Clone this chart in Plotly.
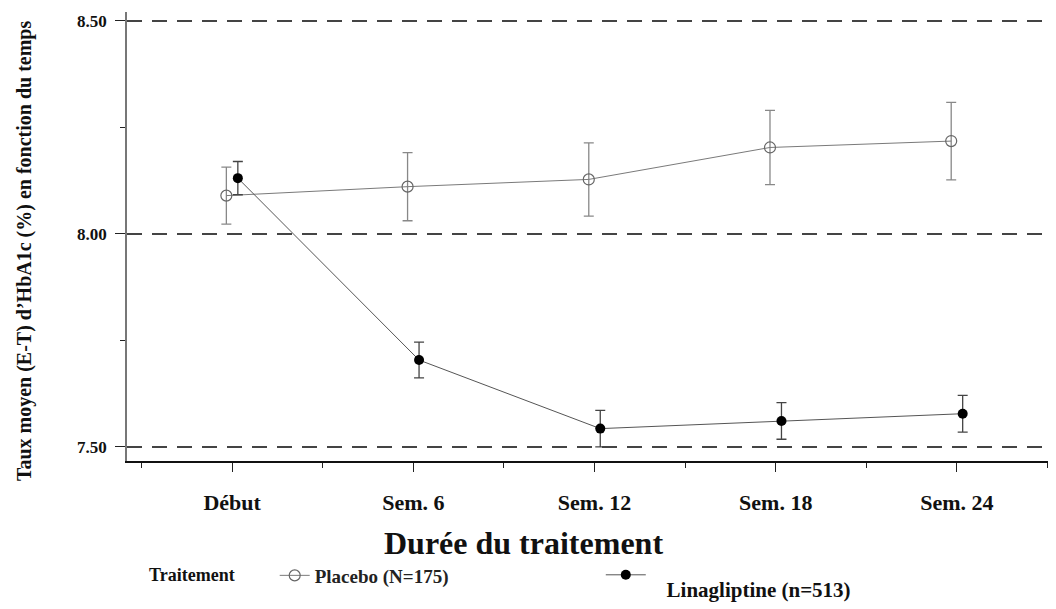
import plotly.graph_objects as go

weeks = [0, 6, 12, 18, 24]
week_labels = ["Début", "Sem. 6", "Sem. 12", "Sem. 18", "Sem. 24"]
placebo_mean = [8.090, 8.111, 8.128, 8.203, 8.218]
placebo_se = [0.067, 0.080, 0.086, 0.087, 0.091]
lina_mean = [8.131, 7.704, 7.543, 7.561, 7.578]
lina_se = [0.039, 0.042, 0.043, 0.043, 0.043]
y_ticks = [7.50, 8.00, 8.50]

dodge = 0.19
FONT = "Liberation Serif"
NB = "\u00a0"

fig = go.Figure()
fig.add_trace(go.Scatter(
    x=[w - dodge for w in weeks], y=placebo_mean,
    mode="lines+markers", name="Placebo (N=175)",
    line=dict(color="#7a7a7a", width=1),
    marker=dict(symbol="circle-open", size=11, color="#666666", line=dict(width=1.2)),
    error_y=dict(type="data", array=placebo_se, color="#888888", thickness=1.3, width=5),
    legend="legend",
))
fig.add_trace(go.Scatter(
    x=[w + dodge for w in weeks], y=lina_mean,
    mode="lines+markers", name="<br>" + NB * 3 + "Linagliptine (n=513)",
    line=dict(color="#555555", width=1),
    marker=dict(symbol="circle", size=10, color="#000000"),
    error_y=dict(type="data", array=lina_se, color="#444444", thickness=1.3, width=5),
    legend="legend2",
))

fig.update_layout(
    width=1048, height=601,
    margin=dict(l=119, r=0, t=4, b=135),
    plot_bgcolor="white", paper_bgcolor="white",
    font=dict(family=FONT, color="#111111"),
    showlegend=True,
    legend=dict(
        orientation="h", x=0.159, xanchor="left", y=-0.255, yanchor="middle",
        font=dict(size=19, weight="bold", family=FONT, color="#222222"),
        itemwidth=30, bgcolor="rgba(0,0,0,0)",
    ),
    legend2=dict(
        orientation="h", x=0.510, xanchor="left", y=-0.255, yanchor="middle",
        font=dict(size=21, weight="bold", family=FONT, color="#111111"),
        itemwidth=40, valign="middle", bgcolor="rgba(0,0,0,0)",
    ),
    annotations=[
        dict(text="Traitement", xref="paper", yref="paper", x=0.0215, y=-0.255,
             xanchor="left", yanchor="middle", showarrow=False,
             font=dict(size=18, weight="bold", family=FONT, color="#111111")),
        dict(text="Durée du traitement", xref="paper", yref="paper", x=0.4268, y=-0.182,
             xanchor="center", yanchor="middle", showarrow=False,
             font=dict(size=32, weight="bold", family=FONT, color="#111111")),
        dict(text="Taux moyen (E-T) d’HbA1c (%) en fonction du temps", xref="paper", yref="paper",
             x=-0.1109, y=0.4696, xanchor="center", yanchor="middle", textangle=-90,
             showarrow=False, font=dict(size=20, weight="bold", family=FONT, color="#111111")),
    ],
)
fig.update_xaxes(
    range=[-3.48, 27.28],
    tickvals=weeks, ticktext=week_labels,
    tickfont=dict(size=22, weight="bold", family=FONT, color="#111111"),
    ticks="outside", ticklen=9, tickcolor="#222222", tickwidth=1.2,
    minor=dict(dtick=3, tick0=0, ticks="outside", ticklen=5, tickcolor="#222222", showgrid=False),
    showline=True, linecolor="#111111", linewidth=1.5,
    showgrid=False, zeroline=False,
    ticklabelstandoff=12,
)
fig.update_yaxes(
    range=[7.467, 8.521],
    tickvals=y_ticks, tickformat=".2f",
    tickfont=dict(size=17, weight="bold", family=FONT, color="#111111"),
    ticks="outside", ticklen=10, tickcolor="#222222", tickwidth=1.2,
    minor=dict(dtick=0.25, tick0=7.5, ticks="outside", ticklen=5, tickcolor="#222222", showgrid=False),
    showline=True, linecolor="#777777", linewidth=1.5,
    showgrid=True, gridcolor="#444444", gridwidth=1.5, griddash="15px,10px",
    zeroline=False,
    ticklabelstandoff=5,
)

fig.write_html("out.html")
